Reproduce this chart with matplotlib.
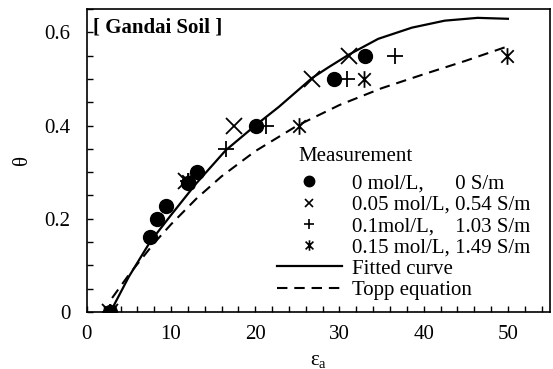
import matplotlib
matplotlib.use("Agg")
import matplotlib.pyplot as plt
from matplotlib.path import Path
from matplotlib.lines import Line2D
from matplotlib.ticker import MultipleLocator

plt.rcParams['font.family'] = ['Liberation Serif', 'DejaVu Serif']
plt.rcParams['mathtext.fontset'] = 'stix'

# Measurements (epsilon_a, theta)
eps_0 = [2.75, 7.5, 8.3, 9.4, 12.0, 13.1, 20.1, 29.4, 33.0]
th_0 = [0.0, 0.16, 0.20, 0.228, 0.276, 0.30, 0.40, 0.50, 0.55]
eps_005 = [2.75, 11.8, 17.5, 26.75, 31.1]
th_005 = [0.0, 0.28, 0.40, 0.50, 0.55]
eps_01 = [2.75, 12.0, 16.5, 21.25, 30.9, 36.6]
th_01 = [0.0, 0.28, 0.35, 0.40, 0.50, 0.55]
eps_015 = [2.75, 12.0, 25.2, 32.9, 49.9]
th_015 = [0.0, 0.28, 0.40, 0.50, 0.55]

# Fitted curve
fit_eps = [2.8, 5, 7.5, 10, 13, 16.5, 20, 22.8, 26.75, 28.7, 31.1, 34.6, 38.6, 42.5, 46.4, 50]
fit_th = [0.0, 0.076, 0.150, 0.208, 0.276, 0.347, 0.400, 0.440, 0.502, 0.525, 0.552, 0.586, 0.610, 0.625, 0.631, 0.629]

# Topp equation curve
topp_eps = [3, 5, 8, 10, 13, 16, 20, 25, 30, 35, 40, 45, 50]
topp_th = [0.030, 0.080, 0.148, 0.188, 0.243, 0.291, 0.345, 0.400, 0.444, 0.480, 0.510, 0.539, 0.570]

labels = ['0 mol/L,      0 S/m', '0.05 mol/L, 0.54 S/m', '0.1mol/L,    1.03 S/m',
          '0.15 mol/L, 1.49 S/m', 'Fitted curve', 'Topp equation']

star = Path([(0, -1), (0, 1), (-0.75, -0.75), (0.75, 0.75), (-0.75, 0.75), (0.75, -0.75)],
            [Path.MOVETO, Path.LINETO, Path.MOVETO, Path.LINETO, Path.MOVETO, Path.LINETO])

fig = plt.figure(figsize=(5.53, 3.69), dpi=100)
ax = fig.add_axes([0.157, 0.1545, 0.8376, 0.8211])

FS = 15
DASH = (0, (5, 3.3))
l_fit, = ax.plot(fit_eps, fit_th, color='black', lw=1.6, zorder=2)
l_topp, = ax.plot(topp_eps, topp_th, color='black', lw=1.5, ls=DASH, zorder=2)

ax.plot(eps_015, th_015, ls='none', marker=star, ms=12, mec='black', mew=1.3, zorder=3)
ax.plot(eps_01, th_01, ls='none', marker='+', ms=12, mec='black', mew=1.3, zorder=3)
ax.plot(eps_005, th_005, ls='none', marker='x', ms=11, mec='black', mew=1.3, zorder=3)
ax.plot(eps_0, th_0, ls='none', marker='o', ms=10, color='black', zorder=4)

p0 = Line2D([], [], ls='none', marker='o', ms=7.5, color='black')
p1 = Line2D([], [], ls='none', marker='x', ms=5.5, mec='black', mew=1.2)
p2 = Line2D([], [], ls='none', marker='+', ms=6.5, mec='black', mew=1.2)
p3 = Line2D([], [], ls='none', marker=star, ms=7.5, mec='black', mew=1.2)

ax.set_xlim(0, 55)
ax.set_ylim(0, 0.65)
ax.xaxis.set_minor_locator(MultipleLocator(2))
ax.yaxis.set_minor_locator(MultipleLocator(0.05))
ax.set_xticks([0, 10, 20, 30, 40, 50])
ax.set_xticklabels(['0', '10', '20', '30', '40', '50'])
ax.set_yticks([0, 0.2, 0.4, 0.6])
ax.set_yticklabels(['0', '0.2', '0.4', '0.6'])
ax.tick_params(which='both', direction='in', length=4.5, width=1.0, labelsize=FS,
               top=False, right=False)
ax.tick_params(axis='x', which='both', pad=9.5)
ax.tick_params(axis='y', which='both', pad=12)
for s in ax.spines.values():
    s.set_linewidth(1.2)

ax.set_xlabel(r'$\mathregular{\varepsilon_a}$', fontsize=FS, labelpad=5)
ax.set_ylabel('θ', fontsize=FS, labelpad=9)

ax.text(0.7, 0.61, '[ Gandai Soil ]', fontsize=FS, fontweight='bold', va='center', ha='left')
ax.text(25.07, 0.334, 'Measurement', fontsize=FS, va='center', ha='left')

leg = ax.legend([p0, p1, p2, p3, l_fit, l_topp], labels, loc='upper left',
                bbox_to_anchor=(277 / 553, 1 - 174 / 369), bbox_transform=fig.transFigure,
                frameon=False, fontsize=FS, handlelength=3.1, handletextpad=0.5,
                labelspacing=0.08, borderpad=0, borderaxespad=0)

fig.savefig('out.png', dpi=100)
